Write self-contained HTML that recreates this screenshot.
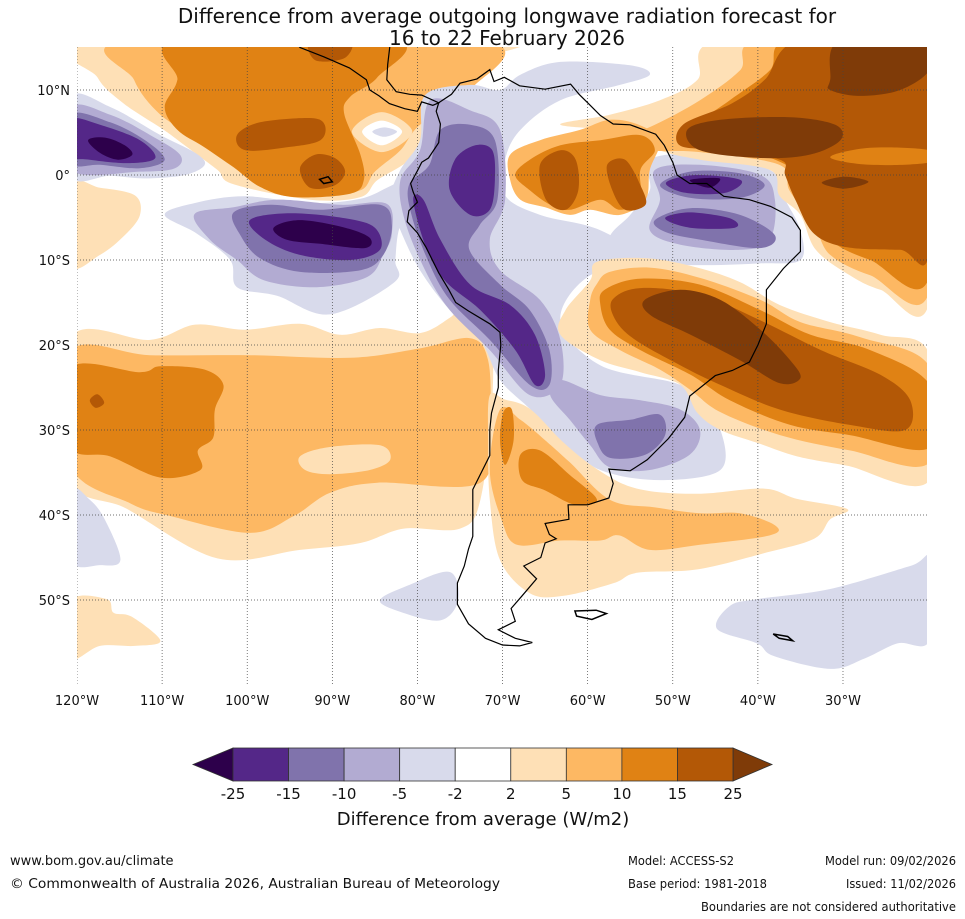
<!DOCTYPE html>
<html><head><meta charset="utf-8"><style>
html,body{margin:0;padding:0;background:#fff}
svg{display:block;font-family:"DejaVu Sans","Liberation Sans",sans-serif}
</style></head><body>
<svg id="chart" width="965" height="919" viewBox="0 0 965 919" xmlns="http://www.w3.org/2000/svg">
<defs><clipPath id="mapclip"><rect x="77" y="47" width="850" height="639"/></clipPath></defs>
<g id="map" clip-path="url(#mapclip)"><rect x="77" y="47" width="850" height="639" fill="#fff"/></g>
<text x="507" y="23" font-size="20" text-anchor="middle" fill="#111">Difference from average outgoing longwave radiation forecast for</text>
<text x="507" y="45" font-size="20" text-anchor="middle" fill="#111">16 to 22 February 2026</text>
<g id="axes"></g>
<g id="cbar"></g>
<text x="483" y="825" font-size="18" text-anchor="middle" fill="#111">Difference from average (W/m2)</text>
<text x="10" y="865" font-size="13" fill="#111">www.bom.gov.au/climate</text>
<text x="10" y="888" font-size="13" fill="#111" textLength="490" lengthAdjust="spacingAndGlyphs">© Commonwealth of Australia 2026, Australian Bureau of Meteorology</text>
<text x="628" y="865" font-size="12" fill="#111" textLength="106" lengthAdjust="spacingAndGlyphs">Model: ACCESS-S2</text>
<text x="628" y="888" font-size="12" fill="#111" textLength="139" lengthAdjust="spacingAndGlyphs">Base period: 1981-2018</text>
<text x="825" y="865" font-size="12" fill="#111" textLength="131" lengthAdjust="spacingAndGlyphs">Model run: 09/02/2026</text>
<text x="846" y="888" font-size="12" fill="#111" textLength="110" lengthAdjust="spacingAndGlyphs">Issued: 11/02/2026</text>
<text x="701" y="911" font-size="12" fill="#111" textLength="255" lengthAdjust="spacingAndGlyphs">Boundaries are not considered authoritative</text>
</svg>
<script>
// ---- data ----
const levelBounds = [-25,-15,-10,-5,-2,2,5,10,15,25];
const levelColors = ["#2d004b","#542788","#8073ac","#b2abd2","#d8daeb","#ffffff","#fee0b6","#fdb863","#e08214","#b35806","#7f3b08"];
const lonTicks = [-120,-110,-100,-90,-80,-70,-60,-50,-40,-30];
const latTicks = [10,0,-10,-20,-30,-40,-50];
// contour blobs: [level, [[lon,lat],...]]  level: +1..+5 positive, -1..-5 negative, 0 = white
const blobs = [
 [1,[[-118.5,15.9],[-117.6,11.5],[-114.5,8.4],[-109.8,5.3],[-107.1,3.3],[-103.5,0.6],[-101.6,-1.1],[-92.6,-2.9],[-86.7,-2.6],[-84.7,-0.6],[-80.9,1.8],[-77.7,5.3],[-73,13],[-70.3,15.9]]],
 [2,[[-113.8,15.9],[-113.3,11.2],[-110.2,7.1],[-105.5,4.1],[-102,1.5],[-98.5,-0.4],[-91.4,-2],[-86.7,-1.8],[-85,0.4],[-82,2.9],[-79.7,5.9],[-73.8,10],[-72.6,15.9]]],
 [3,[[-108.2,15.9],[-108.2,11.2],[-109.7,8],[-108.2,5.3],[-105.1,3.3],[-101.6,0.9],[-98.5,-1.4],[-94.5,-2.6],[-87.9,-2.2],[-86.3,-0.6],[-86.7,2.4],[-88.6,7.2],[-87.9,9.2],[-84.7,11.5],[-82.7,15.9]]],
 [4,[[-101.2,4.7],[-98.5,6.2],[-92.6,6.7],[-90.9,5.9],[-91.4,4.1],[-95,3.3],[-100.2,2.9]]],
 [4,[[-93.8,0.8],[-92,2.4],[-89.7,2],[-88.5,0.4],[-89.7,-1.2],[-92.6,-1.5]]],
 [4,[[-92.6,15.9],[-87.9,15.9],[-88.5,13.8],[-92,13.5]]],
 [1,[[-87.7,5.1],[-84.2,7.4],[-80.6,5.1],[-84.2,2.7]]],
 [0,[[-86.5,5.1],[-84.2,6.4],[-81.8,5.1],[-84.2,3.5]]],
 [-1,[[-85.3,5.1],[-83.9,5.6],[-82.4,5.1],[-83.9,4.5]]],
 [1,[[-120.8,-1.2],[-117.3,-1.5],[-113.2,-2.4],[-112.6,-4.7],[-114.4,-7.1],[-117.3,-9.4],[-120.8,-10.6]]],
 [1,[[-120.8,-19.2],[-111.4,-19.4],[-106.1,-17.6],[-100.3,-18.2],[-93.8,-17.5],[-89.1,-18.8],[-84.4,-18],[-79.7,-18.6],[-76.2,-16.8],[-73.8,-14.7],[-71.5,-17.1],[-71.2,-26.5],[-72.6,-38.2],[-75,-41.6],[-81.6,-41.6],[-86.7,-43.3],[-93.8,-44.1],[-103.5,-45.1],[-114.1,-39.3],[-120.8,-35.6]]],
 [2,[[-120.8,-20.8],[-111.4,-21.2],[-99.7,-21.2],[-87.9,-21.5],[-79.7,-20.4],[-73.8,-19.2],[-71.7,-21.8],[-71.5,-28.8],[-72.6,-36.2],[-84.7,-36.2],[-90.3,-37.4],[-94.5,-40.1],[-99.7,-42.1],[-109.1,-40.1],[-113.8,-38.6],[-120.8,-34.1]]],
 [1,[[-93.8,-33.1],[-90.3,-32],[-84.4,-31.8],[-83.2,-33.5],[-85.6,-34.7],[-90.3,-35.2],[-93.2,-34.7]]],
 [3,[[-120.8,-22.7],[-112.6,-23.2],[-110.2,-22.5],[-105,-22.9],[-102.8,-24.7],[-103.8,-27.6],[-104,-30.9],[-105.8,-32.4],[-105.5,-34.7],[-110.2,-35.6],[-116.1,-33.1],[-120.8,-31.9]]],
 [4,[[-118.5,-26.5],[-117.6,-25.8],[-116.8,-26.8],[-117.8,-27.4]]],
 [1,[[-120.8,-50.1],[-116.5,-49.9],[-115.7,-51.5],[-113.5,-52],[-110.2,-54.8],[-113.2,-55.4],[-117.3,-55.4],[-120.8,-56.8]]],
 [-1,[[-120.8,-37.1],[-118.5,-38.2],[-116.7,-40.6],[-114.9,-45.3],[-117.3,-45.9],[-120.8,-45.3]]],
 [-1,[[-19.8,-45.3],[-22.1,-46],[-31.5,-48.7],[-40.1,-49.9],[-43.3,-50.7],[-44.8,-53.4],[-40.1,-55.1],[-38.1,-56.6],[-31.5,-58.1],[-27.5,-56.9],[-23.6,-55.1],[-19.8,-54.7]]],
 [-1,[[-84.4,-50],[-80.9,-48.2],[-76.2,-46.7],[-75.2,-50],[-77.3,-52.4],[-82,-51.4]]],
 [-1,[[-79.1,9.4],[-73.8,10.6],[-70.3,10],[-67.9,11.8],[-63.2,13.3],[-55,12.9],[-52.7,11.8],[-56.2,10.6],[-63.2,8.8],[-67.9,5.3],[-69.7,1.8],[-69.7,-2.4],[-65.6,-4.7],[-58.5,-6.5],[-52.7,-10.6],[-59.7,-11.8],[-63.2,-17.1],[-58.5,-22.4],[-49.1,-24.7],[-46.8,-27.6],[-44.4,-30],[-44.4,-34.7],[-51.5,-35.9],[-58.5,-34.7],[-63.2,-31.2],[-66.8,-27.5],[-70.3,-24.1],[-72.6,-19.4],[-76.2,-15.9],[-79.7,-11.2],[-82,-6.5],[-83.2,-2.9],[-82,0.6],[-79.7,4.1]]],
 [-1,[[-52.7,1.8],[-46.8,2.4],[-38.6,0.6],[-36.8,-2.9],[-35,-6.5],[-35,-10],[-39.7,-10.4],[-46.8,-10.6],[-53.9,-10.2],[-57.4,-7.6],[-55,-4.7],[-52.7,-1.8]]],
 [1,[[-71.5,-25.9],[-69.8,-26.4],[-66.8,-27.5],[-62.8,-31.5],[-58.9,-34.6],[-54.2,-36.9],[-47.1,-37.5],[-39.3,-36.9],[-35.4,-38.1],[-29.5,-39.3],[-31.5,-40.5],[-33.4,-42.8],[-39.3,-44.5],[-47.1,-46.4],[-54.2,-46.8],[-56.9,-48],[-62.8,-49.5],[-66.8,-49.2],[-70.3,-45.3],[-71.5,-38.2],[-71.7,-31.2]]],
 [2,[[-70.3,-27.6],[-67.9,-28.8],[-65,-31.2],[-62.1,-33.8],[-57.4,-38.2],[-52.1,-39.1],[-46.8,-39.8],[-42.1,-39.8],[-38,-41.2],[-38.6,-42.4],[-46.8,-43.5],[-52.7,-44.1],[-56.3,-42.4],[-58.5,-43],[-63.2,-43],[-68.3,-43.5],[-70.1,-40.6],[-71.5,-34.7]]],
 [3,[[-67.9,-32.9],[-65.6,-32.4],[-62.1,-35.3],[-58.9,-38.2],[-61.5,-38.8],[-65,-37.1],[-67.7,-35.9]]],
 [3,[[-69.9,-27.9],[-68.9,-27.6],[-68.7,-31.2],[-69.7,-34.1],[-70.3,-31.2]]],
 [1,[[-44.4,15.9],[-47.1,11.2],[-51.5,8.8],[-57.4,7.1],[-63.2,5.9],[-55,5],[-51.5,2.9],[-46.8,1.8],[-38.6,0.6],[-37.5,-2.4],[-35,-4.7],[-33.2,-8.8],[-29.2,-11.8],[-25.6,-13.5],[-19.8,-14.7],[-19.8,15.9]]],
 [2,[[-39.7,15.9],[-42.1,12.3],[-46.8,8.8],[-52.1,5.9],[-56.2,4.1],[-52.7,2.9],[-46.8,2.7],[-37.5,1.2],[-36.3,-1.8],[-33.4,-5.9],[-31.5,-9.4],[-26.8,-11.8],[-19.8,-13.5],[-19.8,15.9]]],
 [3,[[-36.2,15.9],[-38.6,12.3],[-43.3,8.8],[-48,5.3],[-46.8,3.5],[-39.7,2.4],[-35,0],[-33.8,-3.5],[-31.5,-7.6],[-26.8,-10],[-19.8,-11.8],[-19.8,15.9]]],
 [4,[[-35,15.9],[-39.2,11.2],[-43.1,8.4],[-48.7,6],[-49.2,3.5],[-44.6,2.9],[-37.4,1.8],[-36.8,0],[-35.6,-2.9],[-33.4,-6.9],[-29.5,-8.5],[-23.3,-8.8],[-19.8,-8.8],[-19.8,15.9]]],
 [3,[[-31.5,2.1],[-26.8,3.2],[-19.8,2.9],[-19.8,1.5],[-26.8,1.2]]],
 [5,[[-30.3,15.9],[-31.5,11.2],[-31.5,10],[-28,9.3],[-23.3,10],[-19.8,12.4],[-19.8,15.9]]],
 [5,[[-48.3,5.3],[-44.4,6.5],[-36.2,6.8],[-30.9,5.9],[-30.3,4.1],[-33.9,2.4],[-39.7,2],[-46.8,2.9]]],
 [5,[[-32.5,-0.9],[-29.8,-0.2],[-27,-0.8],[-29.8,-1.6]]],
 [2,[[-69.1,2.4],[-65.6,4.1],[-60.9,5.3],[-57.4,6.5],[-54,5.9],[-51.5,4.1],[-52.7,0.6],[-53.2,-2.9],[-56.2,-4.7],[-59.7,-4.1],[-62.1,-4.7],[-65,-3.8],[-67.9,-2.9],[-69.1,-0.6]]],
 [3,[[-68.5,0],[-66.8,1.8],[-63.2,3.5],[-58.5,4.1],[-53.8,4.7],[-52.1,2.9],[-53.8,0.6],[-53.8,-2.9],[-56.2,-4.1],[-58.5,-2.9],[-62.1,-4.1],[-64.4,-3.5],[-66.8,-1.8]]],
 [4,[[-65.6,1.2],[-63.2,2.9],[-61.4,1.8],[-61.1,-1.8],[-62.6,-4.1],[-64.9,-2.9]]],
 [4,[[-57.7,1.2],[-55.6,1.8],[-53.8,-1.2],[-53.2,-3.5],[-55.6,-4.1],[-57.1,-1.8]]],
 [1,[[-59.7,-12.4],[-58.9,-10.2],[-53,-9.8],[-47.1,-10.9],[-42.1,-12.6],[-37.4,-15.3],[-31.5,-17.3],[-25.6,-18.8],[-19.8,-21.2],[-19.8,-35.9],[-29.5,-34.2],[-35.4,-33.1],[-40.1,-31.5],[-44.4,-30],[-47.1,-28],[-49.1,-24.7],[-53.8,-23.2],[-58.5,-21.8],[-63.2,-18.8],[-62.6,-15.9]]],
 [2,[[-58.9,-12.8],[-57.4,-11.4],[-52.7,-10.9],[-46.8,-12.1],[-39.7,-14.7],[-35,-17.3],[-27.9,-19.1],[-19.8,-22.6],[-19.8,-33.8],[-29.2,-32.4],[-37.4,-30.6],[-44.4,-27.9],[-47.9,-25.3],[-51.5,-22.9],[-56.2,-20.6],[-59.7,-18.2],[-59.7,-14.7]]],
 [3,[[-58,-13.5],[-53.9,-12.2],[-46.8,-12.9],[-39.7,-15.9],[-33.8,-18.8],[-26.8,-20.6],[-19.8,-24.7],[-19.8,-32.1],[-29.2,-30.6],[-36.2,-29.4],[-43.3,-26.5],[-47.9,-23.5],[-53.8,-20.6],[-57.4,-18.2],[-58.5,-15.3]]],
 [4,[[-57.1,-14.7],[-53.8,-13.3],[-46.8,-14.1],[-39.7,-17.1],[-32.6,-20.6],[-25.6,-23.5],[-22.1,-26.5],[-22.7,-30],[-29.2,-29.4],[-37.4,-27.6],[-44.4,-24.7],[-49.1,-22.4],[-54.4,-19.4],[-56.7,-17.1]]],
 [5,[[-53.3,-14.7],[-49.1,-13.5],[-44.4,-14.7],[-39.7,-18.2],[-36.2,-21.8],[-35,-23.9],[-37.4,-24.5],[-42.1,-21.8],[-47.9,-18.8],[-52.6,-16.5]]],
 [-1,[[-120.8,9.1],[-116.1,8],[-110.2,4.7],[-106.1,2.6],[-105,1.2],[-107.3,0],[-112,-0.4],[-116.1,-0.1],[-120.8,-0.1]]],
 [-2,[[-120.8,7.9],[-116.1,7.1],[-111.4,4.7],[-107.9,2.4],[-108.5,0.8],[-112.6,0.4],[-120.8,0.6]]],
 [-3,[[-120.8,7.1],[-116.1,6.2],[-112,4.1],[-109.7,1.8],[-112.6,0.8],[-117.3,1.2],[-120.8,1.5]]],
 [-4,[[-120.8,6.5],[-117.3,5.9],[-112.6,4.1],[-110.8,2],[-113.8,1.4],[-118.5,1.8],[-120.8,2.4]]],
 [-5,[[-118.7,4.1],[-116.7,4.4],[-114.4,3.5],[-113.5,2.4],[-115.2,1.8],[-117.3,2.6]]],
 [-1,[[-109.7,-4.7],[-106.2,-3.3],[-100.3,-2.5],[-92.6,-3.3],[-86.7,-2.8],[-83.2,-1.3],[-80.3,0],[-79.7,-2.9],[-82,-5.9],[-82.6,-10],[-82.7,-12.6],[-90.3,-16.4],[-96.5,-14.2],[-101.2,-13.2],[-102,-10],[-105.9,-6.9]]],
 [-2,[[-106.2,-4.6],[-101.6,-3.8],[-96.5,-2.9],[-89.1,-3.5],[-83.6,-3.4],[-83,-6.9],[-84,-9.3],[-85.9,-12],[-91.8,-13.2],[-98,-12.4],[-101.2,-10],[-104.4,-7.6]]],
 [-3,[[-101.6,-4.4],[-97.3,-3.5],[-91.4,-4.1],[-84.4,-3.5],[-83,-5.9],[-84,-9.4],[-86.7,-11.2],[-93.8,-11.4],[-98.5,-9.8],[-100.8,-7.1]]],
 [-4,[[-99.7,-5.3],[-95,-4.5],[-88.5,-5.1],[-85,-6.2],[-84.4,-8.8],[-87.9,-10],[-93.8,-9.4],[-97.9,-7.6]]],
 [-5,[[-96.9,-6.2],[-93.8,-5.3],[-88.5,-6.2],[-85.6,-7.4],[-86.2,-8.6],[-91.4,-8.1],[-95.4,-7.6]]],
 [-2,[[-78.5,8.8],[-73.8,7.6],[-70.3,5.3],[-69.7,-2.9],[-71.5,-7.6],[-70.3,-11.2],[-65.6,-14.7],[-63.2,-19.4],[-63.2,-24.7],[-66.8,-25.9],[-71.5,-20.6],[-76.2,-15.9],[-79.1,-11.2],[-81.5,-5.3],[-82,-0.6],[-79.7,2.9]]],
 [-3,[[-77.3,5.3],[-73.8,5.9],[-70.9,4.1],[-70.6,-2.9],[-72.7,-5.9],[-73.9,-8.8],[-70.3,-12.9],[-66.8,-15.9],[-64.5,-20.6],[-64.5,-24.7],[-66.8,-24.7],[-71.5,-19.4],[-76.2,-14.7],[-78.8,-10],[-80.7,-4.7],[-81,-1.2],[-78.6,1.2]]],
 [-4,[[-75.6,1.8],[-73.2,3.5],[-71.2,2.9],[-70.9,-0.6],[-71.5,-4.1],[-73.8,-4.7],[-76.2,-1.8]]],
 [-4,[[-80.5,-2.9],[-79.3,-2.9],[-77.3,-7.6],[-73.8,-12.9],[-69.1,-15.3],[-66.2,-18.8],[-65,-23.5],[-66.2,-24.7],[-68.5,-20.6],[-72.6,-15.9],[-76.8,-12.4],[-79.1,-8.2]]],
 [-2,[[-52.1,0.6],[-46.8,1.2],[-39.7,0],[-38,-2.9],[-38.6,-7.6],[-42.1,-8.8],[-49.1,-8.2],[-52.7,-6.5],[-51.5,-2.9]]],
 [-3,[[-51.5,-1.2],[-47.9,0.4],[-42.1,0.2],[-39.2,-1.2],[-42.1,-2.7],[-47.9,-2.7]]],
 [-3,[[-52.1,-5.3],[-48,-3.9],[-42.1,-4.7],[-38,-7.1],[-39.8,-8.6],[-46.8,-7.6],[-50.9,-6.7]]],
 [-4,[[-50.8,-0.9],[-47.3,0],[-42,-0.6],[-43.8,-2.1],[-48.5,-2.1]]],
 [-4,[[-50.9,-5.1],[-48,-4.4],[-43.3,-5.1],[-42.7,-6.2],[-48,-6.2]]],
 [-5,[[-48,-0.6],[-44.5,-0.4],[-45.7,-1.5]]],
 [-2,[[-63.2,-24.1],[-58.5,-25.9],[-53.8,-26.5],[-49.1,-27.6],[-46.8,-30],[-48,-32.9],[-52.7,-34.7],[-57.4,-34.4],[-59.7,-31.8],[-62.1,-28.8],[-64.4,-25.9]]],
 [-3,[[-58.9,-29.4],[-55,-28.8],[-51.5,-28.2],[-50.9,-30.6],[-53.2,-32.9],[-57.3,-33.3],[-58.8,-31.6]]]
];
const southAmericaCoast = [[-77.5,8.5],[-76,9.5],[-75,10.8],[-73,11.3],[-71.5,12.4],[-71,11],[-69.8,11.5],[-68,10.5],[-65,10.1],[-62,10.7],[-61,9.5],[-60,8.5],[-58.5,7],[-57,6],[-55,5.9],[-52,4.8],[-51,3.5],[-50,1.5],[-49.5,0],[-48,-1],[-46,-1],[-44,-2.5],[-41,-2.9],[-38.5,-3.7],[-36,-5],[-35,-6.5],[-35,-9],[-37,-11],[-39,-13.5],[-39,-17.5],[-40,-20],[-41,-22],[-43,-23],[-45,-23.6],[-48,-26],[-48.6,-28.5],[-50.5,-31],[-53,-33.5],[-55,-34.8],[-57.5,-34.6],[-57,-36.3],[-57.5,-38],[-60,-38.8],[-62.3,-38.8],[-62.2,-40.5],[-65,-41],[-64.5,-42.3],[-63.7,-42.8],[-65,-43.3],[-65.5,-45],[-67.5,-46],[-66,-47.5],[-67.7,-49.5],[-69,-51],[-68.5,-52.5],[-70.5,-53.5],[-68.5,-54.5],[-66.5,-55],[-68,-55.4],[-70,-55.3],[-72,-54.5],[-74,-52.8],[-75.3,-50.5],[-75.3,-48],[-74.5,-46],[-74,-44],[-73.5,-42.5],[-73.5,-40],[-73.5,-37],[-72.5,-35],[-71.5,-33],[-71.5,-30],[-71.3,-28],[-70.5,-25],[-70.5,-23],[-70.2,-20],[-70.3,-18.5],[-71.5,-17.5],[-74,-16],[-75.5,-15],[-76.3,-13.5],[-77.5,-11.5],[-79,-8.5],[-80,-6.8],[-81.2,-5.5],[-81,-4.2],[-80,-3.2],[-80.5,-2],[-80.8,-1],[-80,0.5],[-79.5,1.5],[-78.7,2],[-77.5,3.8],[-77.3,6],[-77.8,7.5],[-77.5,8.5]];
const centralAmericaCoast = [[-77.5,8.5],[-79.5,9.4],[-80.9,9.5],[-82.5,9.8],[-83.6,11.2],[-83.5,13],[-83.2,15.5],[-94.5,15.8],[-93.8,15],[-91,13.9],[-88,12.6],[-86,11.2],[-85.6,10],[-84.5,9.3],[-83.3,8.4],[-81.5,7.8],[-80,7.5],[-79.5,8.6],[-78.2,8.2],[-77.5,8.5]];
const islands = [[[-61.5,-51.3],[-59,-51.2],[-57.8,-51.6],[-59.5,-52.3],[-61.3,-51.9]],[[-38.2,-54],[-36.5,-54.3],[-35.9,-54.8],[-37.5,-54.5]],[[-91.5,-0.5],[-90.5,-0.2],[-90,-0.8],[-91,-1]]];

// ---- scales ----
const X = lon => 77 + (lon + 120) * 8.511;
const Y = lat => 175 - lat * 8.5;
const NS = "http://www.w3.org/2000/svg";
function colorFor(level){ return level===0 ? "#ffffff" : levelColors[5 + level]; }
function smoothPath(pts){
  const p = pts.map(d=>[X(d[0]),Y(d[1])]); const n=p.length;
  let s = "M"+p[0][0].toFixed(1)+","+p[0][1].toFixed(1);
  for(let i=0;i<n;i++){
    const p0=p[(i-1+n)%n],p1=p[i],p2=p[(i+1)%n],p3=p[(i+2)%n];
    const c1=[p1[0]+(p2[0]-p0[0])/6,p1[1]+(p2[1]-p0[1])/6];
    const c2=[p2[0]-(p3[0]-p1[0])/6,p2[1]-(p3[1]-p1[1])/6];
    s+="C"+c1[0].toFixed(1)+","+c1[1].toFixed(1)+" "+c2[0].toFixed(1)+","+c2[1].toFixed(1)+" "+p2[0].toFixed(1)+","+p2[1].toFixed(1);
  }
  return s+"Z";
}
function linePath(pts){ return pts.map((d,i)=>(i?"L":"M")+X(d[0]).toFixed(1)+","+Y(d[1]).toFixed(1)).join("")+"Z"; }
const map = document.getElementById("map");
blobs.forEach((b,i)=>{
  const el=document.createElementNS(NS,"path");
  el.setAttribute("d",smoothPath(b[1]));
  el.setAttribute("fill",colorFor(b[0]));
  
  
  map.appendChild(el);
});
lonTicks.forEach(v=>{
  const l=document.createElementNS(NS,"line");
  l.setAttribute("x1",X(v));l.setAttribute("x2",X(v));l.setAttribute("y1",47);l.setAttribute("y2",686);
  l.setAttribute("stroke","#444");l.setAttribute("stroke-width","0.7");l.setAttribute("stroke-dasharray","1,2");
  
  
  map.appendChild(l);
});
latTicks.forEach(v=>{
  const l=document.createElementNS(NS,"line");
  l.setAttribute("x1",77);l.setAttribute("x2",927);l.setAttribute("y1",Y(v));l.setAttribute("y2",Y(v));
  l.setAttribute("stroke","#444");l.setAttribute("stroke-width","0.7");l.setAttribute("stroke-dasharray","1,2");
  
  
  map.appendChild(l);
});
[southAmericaCoast,centralAmericaCoast].forEach(c=>{
  const el=document.createElementNS(NS,"path");
  el.setAttribute("d",linePath(c));el.setAttribute("fill","none");el.setAttribute("stroke","#000");el.setAttribute("stroke-width","1.2");
  
  
  map.appendChild(el);
});
islands.forEach(c=>{
  const el=document.createElementNS(NS,"path");
  el.setAttribute("d",linePath(c));el.setAttribute("fill","none");el.setAttribute("stroke","#000");el.setAttribute("stroke-width","1.5");
  
  
  map.appendChild(el);
});
const axes=document.getElementById("axes");
latTicks.forEach(v=>{
  const t=document.createElementNS(NS,"text");
  t.setAttribute("x",70);t.setAttribute("y",Y(v)+5);t.setAttribute("text-anchor","end");t.setAttribute("font-size","13");t.setAttribute("fill","#111");
  t.textContent = v===0 ? "0°" : Math.abs(v)+"°"+(v>0?"N":"S");
  
  
  axes.appendChild(t);
});
lonTicks.forEach(v=>{
  const t=document.createElementNS(NS,"text");
  t.setAttribute("x",X(v));t.setAttribute("y",705);t.setAttribute("text-anchor","middle");t.setAttribute("font-size","13");t.setAttribute("fill","#111");
  t.textContent = Math.abs(v)+"°W";
  
  
  axes.appendChild(t);
});
const cb=document.getElementById("cbar");
const cx0=233, cx1=733, cy0=748, cy1=781, bw=(cx1-cx0)/(levelBounds.length-1);
const tl=document.createElementNS(NS,"polygon");
tl.setAttribute("points",`${cx0},${cy0} 193,${(cy0+cy1)/2} ${cx0},${cy1}`);tl.setAttribute("fill",levelColors[0]);tl.setAttribute("stroke","#333");tl.setAttribute("stroke-width","0.8");


cb.appendChild(tl);
const tr=document.createElementNS(NS,"polygon");
tr.setAttribute("points",`${cx1},${cy0} 772,${(cy0+cy1)/2} ${cx1},${cy1}`);tr.setAttribute("fill",levelColors[10]);tr.setAttribute("stroke","#333");tr.setAttribute("stroke-width","0.8");


cb.appendChild(tr);
for(let i=0;i<levelBounds.length-1;i++){
  const r=document.createElementNS(NS,"rect");
  r.setAttribute("x",cx0+i*bw);r.setAttribute("y",cy0);r.setAttribute("width",bw);r.setAttribute("height",cy1-cy0);
  r.setAttribute("fill",levelColors[i+1]);r.setAttribute("stroke","#333");r.setAttribute("stroke-width","0.8");
  
  
  cb.appendChild(r);
}
levelBounds.forEach((v,i)=>{
  const t=document.createElementNS(NS,"text");
  t.setAttribute("x",cx0+i*bw);t.setAttribute("y",799);t.setAttribute("text-anchor","middle");t.setAttribute("font-size","15");t.setAttribute("fill","#111");
  t.textContent=String(v);
  
  
  cb.appendChild(t);
});
</script>
</body></html>
